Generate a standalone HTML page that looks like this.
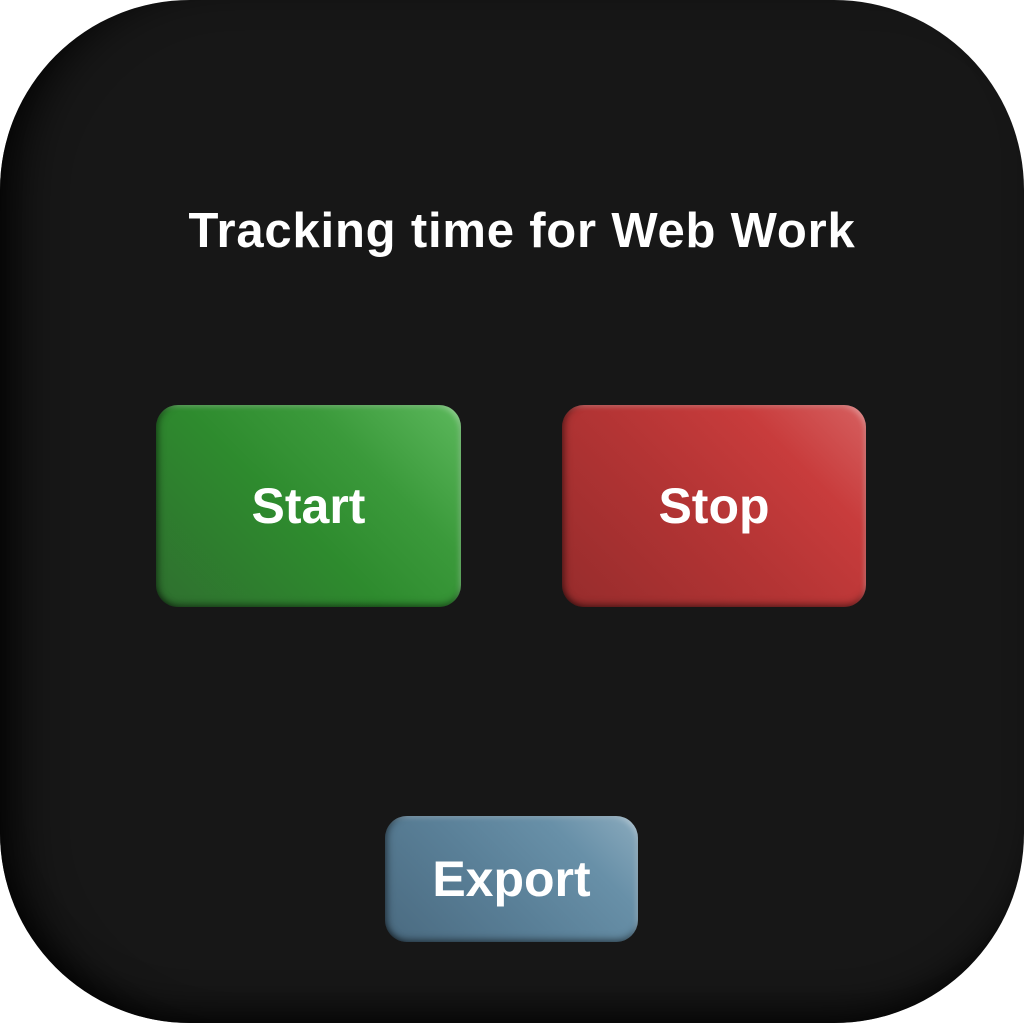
<!DOCTYPE html>
<html><head><style>
html,body{margin:0;padding:0;background:#fff;width:1024px;height:1024px;overflow:hidden;font-family:"Liberation Sans",sans-serif}
.card{position:absolute;left:0;top:0;width:1024px;height:1023px;border-radius:190px;background:#171717;box-shadow:inset 40px 0 50px -30px #000,inset 0 -30px 40px -25px #000}
.title{position:absolute;left:0;width:1044px;top:201px;text-align:center;color:#fff;font-size:49px;font-weight:bold;line-height:60px;letter-spacing:0.8px}
.btn{position:absolute;border-radius:22px;color:#fff;font-weight:bold;text-align:center;box-shadow:inset 6px 0 8px -4px rgba(0,0,0,.5),inset 0 -6px 8px -4px rgba(0,0,0,.5),inset -4px 4px 6px -3px rgba(255,255,255,.35)}
.start{left:156px;top:405px;width:305px;height:202px;line-height:202px;font-size:50px;background:linear-gradient(45deg,#2f6f2f 0%,#2e8b2e 45%,#3b9a3b 70%,#5cb85c 100%)}
.stop{left:562px;top:405px;width:304px;height:202px;line-height:202px;font-size:50px;background:linear-gradient(45deg,#962c2c 0%,#b33434 45%,#c83c3c 75%,#d66060 100%)}
.export{left:385px;top:816px;width:253px;height:126px;line-height:126px;font-size:50px;background:linear-gradient(45deg,#4a6a80 0%,#5a8098 45%,#6890a8 75%,#8aaabd 100%)}
</style></head><body>
<div class="card"></div>
<div class="title">Tracking time for Web Work</div>
<div class="btn start">Start</div>
<div class="btn stop">Stop</div>
<div class="btn export">Export</div>
</body></html>
